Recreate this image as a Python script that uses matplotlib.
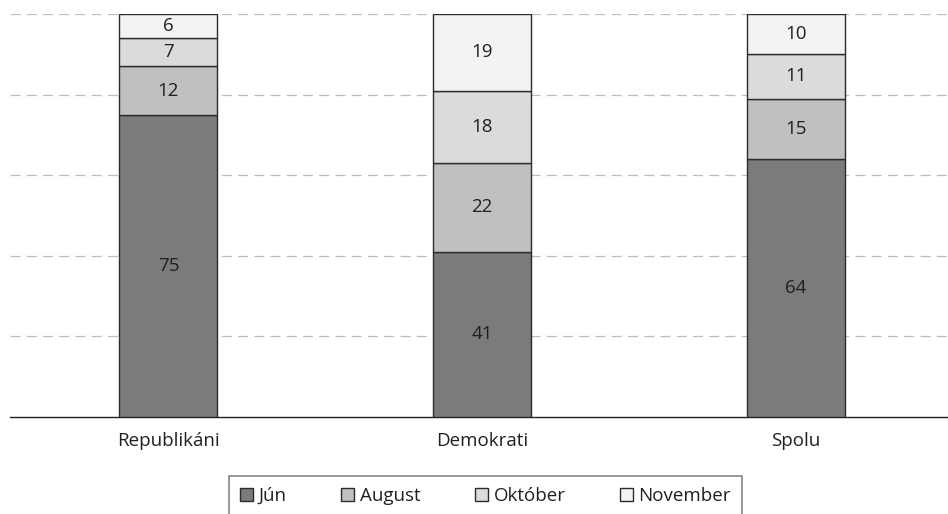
import matplotlib.pyplot as plt
import numpy as np

plt.rcParams['font.family'] = ['Open Sans', 'DejaVu Sans']

skupiny = ['Republikáni', 'Demokrati', 'Spolu']
mesiace = ['Jún', 'August', 'Október', 'November']
jun = [75, 41, 64]
august = [12, 22, 15]
oktober = [7, 18, 11]
november = [6, 19, 10]
farby = ['#7b7b7d', '#c0c0c1', '#dbdbdc', '#f3f3f4']

fig = plt.figure(figsize=(9.48, 5.14), dpi=100)
ax = fig.add_axes([0.0105, 0.1887, 0.9895, 0.7841])

x = np.arange(len(skupiny))
spodok = np.zeros(len(skupiny))
for hodnoty, meno, farba in zip([jun, august, oktober, november], mesiace, farby):
    bary = ax.bar(x, hodnoty, 0.313, bottom=spodok, color=farba, edgecolor='#2b2b2b',
                  linewidth=1.0, label=meno, zorder=3)
    for b, h, s in zip(bary, hodnoty, spodok):
        ax.text(b.get_x() + b.get_width() / 2, s + h / 2, str(h), ha='center', va='center',
                fontsize=13.5, color='#231f20', zorder=4)
    spodok = spodok + np.array(hodnoty)

ax.set_xlim(-0.505, 2.485)
ax.set_ylim(0, 100)
ax.set_yticks([20, 40, 60, 80, 100])
ax.yaxis.grid(True, linestyle=(0, (8, 5)), color='#bdbdbd', linewidth=0.9, zorder=0)
ax.set_yticklabels([])
ax.tick_params(axis='y', length=0)
ax.set_xticks(x)
ax.set_xticklabels(skupiny, fontsize=13.5, color='#231f20')
ax.tick_params(axis='x', length=0, pad=11)
for s in ['top', 'right', 'left']:
    ax.spines[s].set_visible(False)
ax.spines['bottom'].set_color('#231f20')
ax.spines['bottom'].set_linewidth(1.0)
ax.set_facecolor('none')

leg = fig.legend(loc='upper center', bbox_to_anchor=(0.512, 0.074), ncol=4, fontsize=13.5,
                 frameon=True, fancybox=False, edgecolor='#6a6a6a', handlelength=0.7,
                 handleheight=0.7, handletextpad=0.3, columnspacing=2.9, borderpad=0.6,
                 borderaxespad=0)
leg.get_frame().set_linewidth(1.2)
for t in leg.get_texts():
    t.set_color('#231f20')

fig.savefig('out.png', dpi=100)
